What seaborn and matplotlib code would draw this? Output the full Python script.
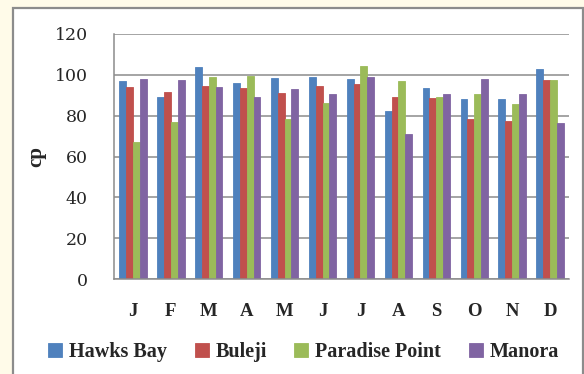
import matplotlib.pyplot as plt
from matplotlib.patches import Rectangle
from matplotlib.ticker import FixedLocator
import numpy as np
import pandas as pd
import seaborn as sns

months = ['J', 'F', 'M', 'A', 'M', 'J', 'J', 'A', 'S', 'O', 'N', 'D']
sites = ['Hawks Bay', 'Buleji', 'Paradise Point', 'Manora']

hawks_bay = [96.8, 89.3, 104.0, 96.1, 98.6, 99.1, 98.1, 82.1, 93.7, 88.3, 88.0, 103.0]
buleji = [93.9, 91.4, 94.4, 93.4, 90.9, 94.7, 95.6, 89.0, 88.5, 78.2, 77.2, 97.6]
paradise_point = [67.0, 76.9, 99.1, 99.2, 78.3, 86.0, 104.5, 96.8, 89.0, 90.7, 85.5, 97.6]
manora = [98.1, 97.3, 93.9, 89.0, 92.9, 90.7, 99.1, 71.0, 90.7, 98.1, 90.7, 76.4]

colors = ['#4F81BD', '#C0504D', '#9BBB59', '#8064A2']

# long form table, months made unique so repeated letters stay separate
month_ids = [f'{i}_{m}' for i, m in enumerate(months)]
rows = []
for site, vals in zip(sites, [hawks_bay, buleji, paradise_point, manora]):
    for mid, v in zip(month_ids, vals):
        rows.append({'month': mid, 'site': site, 'cp': v})
df = pd.DataFrame(rows)

sns.set_style('white')
plt.rcParams['font.family'] = ['Liberation Serif', 'DejaVu Serif']

fig = plt.figure(figsize=(5.84, 3.74), dpi=100)
fig.patch.set_facecolor('#FFFBE9')
# white chart frame behind the axes
frame = Rectangle((12.5 / 584, -0.05), (583 - 12.5) / 584, 1.05 - 8.5 / 374,
                  transform=fig.transFigure, facecolor='white',
                  edgecolor='#8C8C8C', linewidth=1.6, zorder=-5)
fig.patches.append(frame)

ax = fig.add_axes([114 / 584, (374 - 279) / 374, (569 - 114) / 584, (279 - 34) / 374])
ax.set_facecolor('none')

sns.barplot(data=df, x='month', y='cp', hue='site', hue_order=sites,
            order=month_ids, palette=colors, width=0.72, gap=0,
            saturation=1, errorbar=None, ax=ax, zorder=2)
# close the antialiasing seams between touching bars
for p in ax.patches:
    p.set_edgecolor(p.get_facecolor())
    p.set_linewidth(0.6)

ax.set_ylim(0, 120)
ax.set_yticks(np.arange(0, 121, 20))
ax.set_xlim(-0.5, 11.5)
ax.yaxis.grid(True, color='#8C8C8C', linewidth=1.1, zorder=0)
ax.set_axisbelow(True)

ax.set_xticks(range(12))
ax.set_xticklabels(months, fontsize=13.5, fontweight='bold')
ax.tick_params(axis='x', which='major', length=0, pad=17)
ax.xaxis.set_minor_locator(FixedLocator(np.arange(-0.5, 12, 1)))
ax.tick_params(axis='x', which='minor', length=5, color='#8C8C8C', width=1)
ax.tick_params(axis='y', length=5, color='#8C8C8C', width=1, pad=14)
for lab in ax.get_yticklabels():
    lab.set_fontfamily('DejaVu Serif')
    lab.set_fontsize(12.5)

for s in ['top', 'right']:
    ax.spines[s].set_visible(False)
for s in ['left', 'bottom']:
    ax.spines[s].set_color('#8C8C8C')
    ax.spines[s].set_linewidth(1.1)

ax.set_xlabel('')
ax.set_ylabel('cp', fontsize=15, fontweight='bold', labelpad=6)

handles, labels = ax.get_legend_handles_labels()
ax.legend_.remove()
fig.legend(handles, labels, loc='center', bbox_to_anchor=(0.52, (374 - 352) / 374),
           ncol=4, frameon=False, prop={'weight': 'bold', 'size': 14.5},
           handlelength=0.7, handleheight=0.7, handletextpad=0.35, columnspacing=1.35)

fig.savefig('out.png', dpi=100, facecolor=fig.get_facecolor())
